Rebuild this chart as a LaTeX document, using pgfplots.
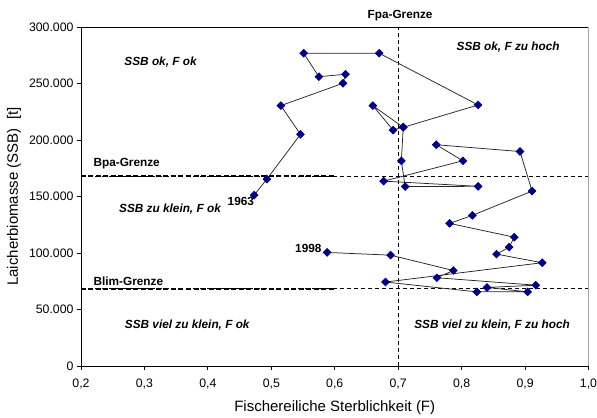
\documentclass[border=0pt]{standalone}
\usepackage{pgfplots}
\pgfplotsset{compat=1.18}
\usepackage{fontspec}
\setmainfont{Liberation Sans}
\definecolor{navy}{RGB}{0,0,128}
\begin{document}
\begin{tikzpicture}
\useasboundingbox (-81bp,-52bp) rectangle (516bp,366bp);
\begin{axis}[
  scale only axis, width=507.5bp, height=339bp,
  xmin=0.2, xmax=1.0, ymin=0, ymax=300000,
  xtick={0.2,0.3,0.4,0.5,0.6,0.7,0.8,0.9,1.0},
  xticklabels={{0,2},{0,3},{0,4},{0,5},{0,6},{0,7},{0,8},{0,9},{1,0}},
  ytick={0,50000,100000,150000,200000,250000,300000},
  yticklabels={0,50.000,100.000,150.000,200.000,250.000,300.000},
  scaled y ticks=false,
  tick align=outside, major tick length=4bp,
  xtick pos=bottom, ytick pos=left,
  tick style={black, line width=0.8bp},
  tick label style={font=\fontsize{12.3bp}{14bp}\selectfont},
  xticklabel style={yshift=-5bp},
  axis line style={line width=0.8bp},
  clip=false,
  xlabel={Fischereiliche Sterblichkeit (F)},
  ylabel={Laicherbiomasse (SSB)\ \ [t]},
  xlabel style={font=\fontsize{15bp}{17bp}\selectfont, at={(axis description cs:0.5,-0.1239)}, anchor=center},
  ylabel style={font=\fontsize{15bp}{17bp}\selectfont, at={(axis description cs:-0.132,0.5)}, anchor=center},
]
% reference lines
\addplot[black, line width=0.9bp, dash pattern=on 4bp off 3bp] coordinates {(0.2,168000) (1.0,168000)};
\addplot[black, line width=0.9bp, dash pattern=on 4bp off 3bp] coordinates {(0.2,68500) (1.0,68500)};
\addplot[black, line width=2bp, dash pattern=on 5bp off 2.5bp] coordinates {(0.2,168000) (0.6,168000)};
\addplot[black, line width=2bp, dash pattern=on 5bp off 2.5bp] coordinates {(0.2,68500) (0.6,68500)};
\addplot[black, line width=0.9bp, dash pattern=on 4bp off 3bp] coordinates {(0.7,0) (0.7,300000)};
% data series 1963-1998
\addplot[black!85, line width=0.75bp, mark=square*, mark size=2.7bp,
  mark options={rotate=45, fill=navy, draw=navy, solid}] coordinates {
(0.473,151200) (0.493,165400) (0.546,205000) (0.515,230400) (0.613,250200)
(0.617,258200) (0.575,256000) (0.551,276800) (0.670,276800) (0.826,231000)
(0.708,211200) (0.660,230400) (0.692,208800) (0.708,211500) (0.705,181600)
(0.711,158800) (0.826,159000) (0.677,163600) (0.802,181600) (0.760,195800)
(0.892,189800) (0.911,154800) (0.817,133300) (0.781,126200) (0.883,114000)
(0.875,105200) (0.855,99000) (0.927,91400) (0.680,74300) (0.824,65600)
(0.904,65600) (0.840,69500) (0.917,71500) (0.761,78100) (0.787,84500)
(0.688,98100) (0.588,100500)
};
\draw[gray!70, line width=1.5bp] (rel axis cs:1,0) -- (rel axis cs:1,1);
% annotations
\tikzset{ann/.style={font=\fontsize{11.8bp}{14bp}\selectfont\bfseries\itshape, inner sep=0pt},
         lab/.style={font=\fontsize{11.8bp}{14bp}\selectfont\bfseries, inner sep=0pt}}
\node[lab] at (axis cs:0.703,310300) {Fpa-Grenze};
\node[ann] at (axis cs:0.3254,269300) {SSB ok, F ok};
\node[ann] at (axis cs:0.8733,282600) {SSB ok, F zu hoch};
\node[lab] at (axis cs:0.272,179300) {Bpa-Grenze};
\node[lab] at (axis cs:0.452,145300) {1963};
\node[ann] at (axis cs:0.3403,138600) {SSB zu klein, F ok};
\node[lab] at (axis cs:0.5584,104000) {1998};
\node[lab] at (axis cs:0.2746,75000) {Blim-Grenze};
\node[ann] at (axis cs:0.3675,36100) {SSB viel zu klein, F ok};
\node[ann] at (axis cs:0.848,36100) {SSB viel zu klein, F zu hoch};
\end{axis}
\end{tikzpicture}
\end{document}
